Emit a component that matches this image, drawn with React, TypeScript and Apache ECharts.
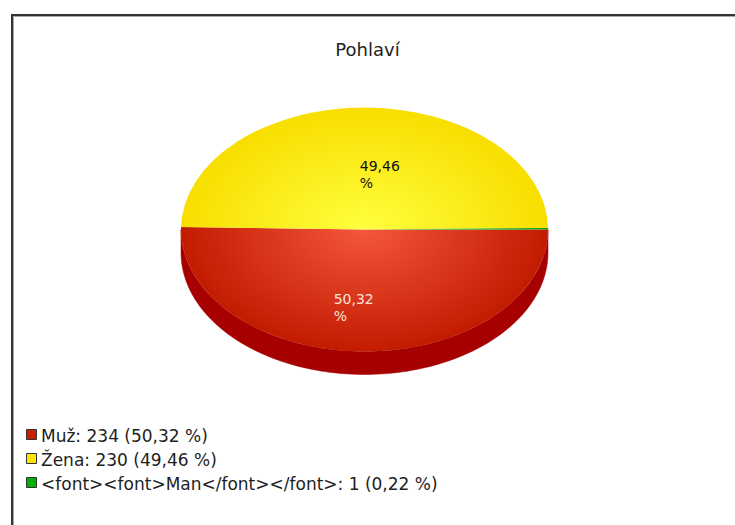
import React, { useEffect, useRef } from "react";
import * as echarts from "echarts";

const TITLE = "Pohlaví";
const categories = ["Muž", "Žena", "<font><font>Man</font></font>"];
const counts = [234, 230, 1];

const topInner = ["#f4573d", "#ffff3e", "#3ee03e"];
const topOuter = ["#c21b00", "#f8de00", "#00a000"];
const sideColors = ["#a60000", "#b89a00", "#007000"];
const legendColors = ["#c81e00", "#ffe400", "#00b000"];
const labelColors = ["#fbe4dc", "#111111", "#111111"];

const FONT = '"DejaVu Sans", "Liberation Sans", sans-serif';

export default function App() {
  const ref = useRef<HTMLDivElement>(null);

  useEffect(() => {
    if (!ref.current) return;
    const chart = echarts.init(ref.current, null, { renderer: "svg" });

    const total = counts.reduce((a, b) => a + b, 0);
    const pct = counts.map((v) => (v / total) * 100);
    const fmt = (p: number) => p.toFixed(2).replace(".", ",");

    const CX = 364.5;
    const CY = 229.5;
    const RX = 183.5;
    const RY = 122;
    const DEPTH = 23;
    const START = 0;
    const labelDx = [-30, -5, 0];

    const renderItem = (params: any, api: any) => {
      const i = params.dataIndex;
      const v = api.value(0);
      let before = 0;
      for (let k = 0; k < i; k++) before += counts[k];
      const a1 = START + (before / total) * Math.PI * 2;
      const a2 = a1 + (v / total) * Math.PI * 2;
      const children: any[] = [];
      const ranges = [
        [0, Math.PI],
        [Math.PI * 2, Math.PI * 3],
      ];
      for (const [lo, hi] of ranges) {
        const s = Math.max(a1, lo);
        const e = Math.min(a2, hi);
        if (e > s) {
          const n = Math.max(2, Math.ceil((e - s) / (Math.PI / 120)));
          const pts: number[][] = [];
          for (let j = 0; j <= n; j++) {
            const t = s + ((e - s) * j) / n;
            pts.push([CX + RX * Math.cos(t), CY + RY * Math.sin(t)]);
          }
          for (let j = n; j >= 0; j--) {
            const t = s + ((e - s) * j) / n;
            pts.push([CX + RX * Math.cos(t), CY + RY * Math.sin(t) + DEPTH]);
          }
          children.push({
            type: "polygon",
            shape: { points: pts },
            style: { fill: sideColors[i], stroke: sideColors[i], lineWidth: 0.5 },
          });
        }
      }
      children.push({
        type: "sector",
        shape: { cx: CX, cy: CY, r: RX, r0: 0, startAngle: a1, endAngle: a2, clockwise: true },
        originX: CX,
        originY: CY,
        scaleY: RY / RX,
        style: {
          fill: new echarts.graphic.RadialGradient(
            CX,
            CY,
            RX,
            [
              { offset: 0, color: topInner[i] },
              { offset: 1, color: topOuter[i] },
            ],
            true
          ),
        },
      });
      if (pct[i] >= 1) {
        const m = (a1 + a2) / 2;
        const front = Math.sin(m) > 0;
        const ax = CX + Math.cos(m) * RX * 0.45 + labelDx[i];
        const ay = CY + Math.sin(m) * RY * 0.45 + (front ? DEPTH : 0);
        children.push({
          type: "text",
          x: ax,
          y: ay,
          style: {
            text: fmt(pct[i]) + "\n%",
            fill: labelColors[i],
            fontSize: 14,
            fontFamily: FONT,
            lineHeight: 17,
            align: "left",
            verticalAlign: "middle",
          },
        });
      }
      return { type: "group", children };
    };

    const legendGraphics: any[] = [];
    categories.forEach((c, i) => {
      legendGraphics.push({
        type: "rect",
        shape: { x: 26.5, y: 429.5 + 24 * i, width: 10, height: 10 },
        style: { fill: legendColors[i], stroke: "#333333", lineWidth: 1 },
      });
      legendGraphics.push({
        type: "text",
        x: 41,
        y: 435.5 + 24 * i,
        style: {
          text: `${c}: ${counts[i]} (${fmt(pct[i])} %)`,
          fill: "#1e1e1e",
          fontSize: 17,
          fontFamily: FONT,
          verticalAlign: "middle",
        },
      });
    });

    chart.setOption({
      animation: false,
      backgroundColor: "#ffffff",
      title: {
        text: TITLE,
        left: "center",
        top: 35,
        textStyle: { fontSize: 18, fontWeight: "normal", fontFamily: FONT, color: "#222222" },
      },
      graphic: [
        {
          type: "polyline",
          shape: { points: [[735, 16.5], [13.5, 16.5], [13.5, 525]] },
          style: { stroke: "#aaaaaa", lineWidth: 1, fill: "none" },
        },
        {
          type: "polyline",
          shape: { points: [[735, 15], [12, 15], [12, 525]] },
          style: { stroke: "#333333", lineWidth: 2, fill: "none" },
        },
        ...legendGraphics,
      ],
      series: [
        {
          type: "custom",
          coordinateSystem: "none",
          renderItem,
          data: counts.map((v) => [v]),
        },
      ],
    });

    return () => chart.dispose();
  }, []);

  return (
    <div
      ref={ref}
      style={{ position: "fixed", left: 0, top: 0, width: 735, height: 525, background: "#fff" }}
    />
  );
}
